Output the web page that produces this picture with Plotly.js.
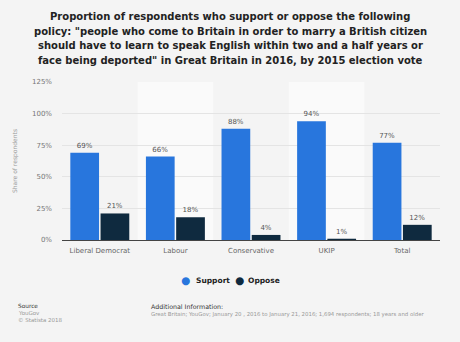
<!DOCTYPE html>
<html><head><meta charset="utf-8">
<script src="https://cdn.plot.ly/plotly-3.0.1.min.js"></script>
<style>html,body{margin:0;padding:0;background:#f4f4f4;}#chart{width:460px;height:342px;}</style>
</head><body><div id="chart"></div>
<script>
const categories = ["Liberal Democrat", "Labour", "Conservative", "UKIP", "Total"];
const seriesNames = ["Support", "Oppose"];
const supportValues = [69, 66, 88, 94, 77];
const opposeValues = [21, 18, 4, 1, 12];
const yTicks = [0, 25, 50, 75, 100, 125];
const yTickLabels = ["0%", "25%", "50%", "75%", "100%", "125%"];
const titleLines = [
  "Proportion of respondents who support or oppose the following",
  "policy: \"people who come to Britain in order to marry a British citizen",
  "should have to learn to speak English within two and a half years or",
  "face being deported\" in Great Britain in 2016, by 2015 election vote"
];

const W = 460, H = 342, L = 62, R = 20, T = 82, B = 102;
const pw = W - L - R, ph = H - T - B;
const px = x => (x - L) / pw;
const py = y => (H - B - y) / ph;

const font = "DejaVu Sans, sans-serif";
const SUP = "#2876dd", OPP = "#0f2a3f";

const traces = [
  {type: "bar", name: seriesNames[0], x: categories, y: supportValues, showlegend: false,
   marker: {color: SUP}, text: supportValues.map(v => v + "%"),
   textposition: "outside", textfont: {family: font, size: 7, color: "#555"}, cliponaxis: false, hoverinfo: "none"},
  {type: "bar", name: seriesNames[1], x: categories, y: opposeValues, showlegend: false,
   marker: {color: OPP}, text: opposeValues.map(v => v + "%"),
   textposition: "outside", textfont: {family: font, size: 7, color: "#555"}, cliponaxis: false, hoverinfo: "none"}
];

const shapes = categories.map((c, i) => i % 2 === 1 ? {
  type: "rect", xref: "x", yref: "paper", x0: i - 0.5, x1: i + 0.5, y0: 0, y1: 1,
  fillcolor: "#fafafa", line: {width: 0}, layer: "below"} : null).filter(Boolean);

const ann = (x, y, text, size, color, anchor) => ({xref: "paper", yref: "paper", x: px(x), y: py(y),
  xanchor: anchor || "left", yanchor: "middle", showarrow: false, text: text,
  font: {family: font, size: size, color: color}});

const annotations = titleLines.map((t, i) => ann(230, 16 + i * 15, "<b>" + t + "</b>", 10, "#222", "center"));
// legend (dot + label)
annotations.push(
  ann(185, 280, "●", 10.5, SUP, "center"),
  ann(194, 280, "<b>" + seriesNames[0] + "</b>", 7.5, "#222"),
  ann(239, 280, "●", 10.5, OPP, "center"),
  ann(246, 280, "<b>" + seriesNames[1] + "</b>", 7.5, "#222")
);
annotations.push(
  ann(16, 306, "Source", 5.8, "#333"),
  ann(16, 313, "YouGov", 5.5, "#999"),
  ann(16, 320, "© Statista 2018", 5.5, "#999"),
  ann(149, 306, "Additional Information:", 6.3, "#333"),
  ann(149, 314, "Great Britain; YouGov; January 20 , 2016 to January 21, 2016; 1,694 respondents; 18 years and older", 5.4, "#999")
);

const layout = {
  width: W, height: H,
  paper_bgcolor: "#f4f4f4", plot_bgcolor: "#f4f4f4",
  margin: {l: L, r: R, t: T, b: B},
  barmode: "group", bargap: 0.2, bargroupgap: 0.05,
  xaxis: {type: "category", showline: true, linecolor: "#444", linewidth: 1, ticks: "",
    tickfont: {family: font, size: 7, color: "#666"}, showgrid: false, ticklabelstandoff: 4},
  yaxis: {range: [0, 125], tickvals: yTicks, ticktext: yTickLabels, showgrid: true, gridcolor: "#e4e4e4",
    zeroline: false, ticks: "", tickfont: {family: font, size: 7, color: "#777"}, ticklabelstandoff: 9,
    title: {text: "Share of respondents", font: {family: font, size: 6, color: "#999"}, standoff: 13}},
  showlegend: false,
  shapes: shapes,
  annotations: annotations
};

Plotly.newPlot("chart", traces, layout, {displayModeBar: false, staticPlot: true});
</script></body></html>
